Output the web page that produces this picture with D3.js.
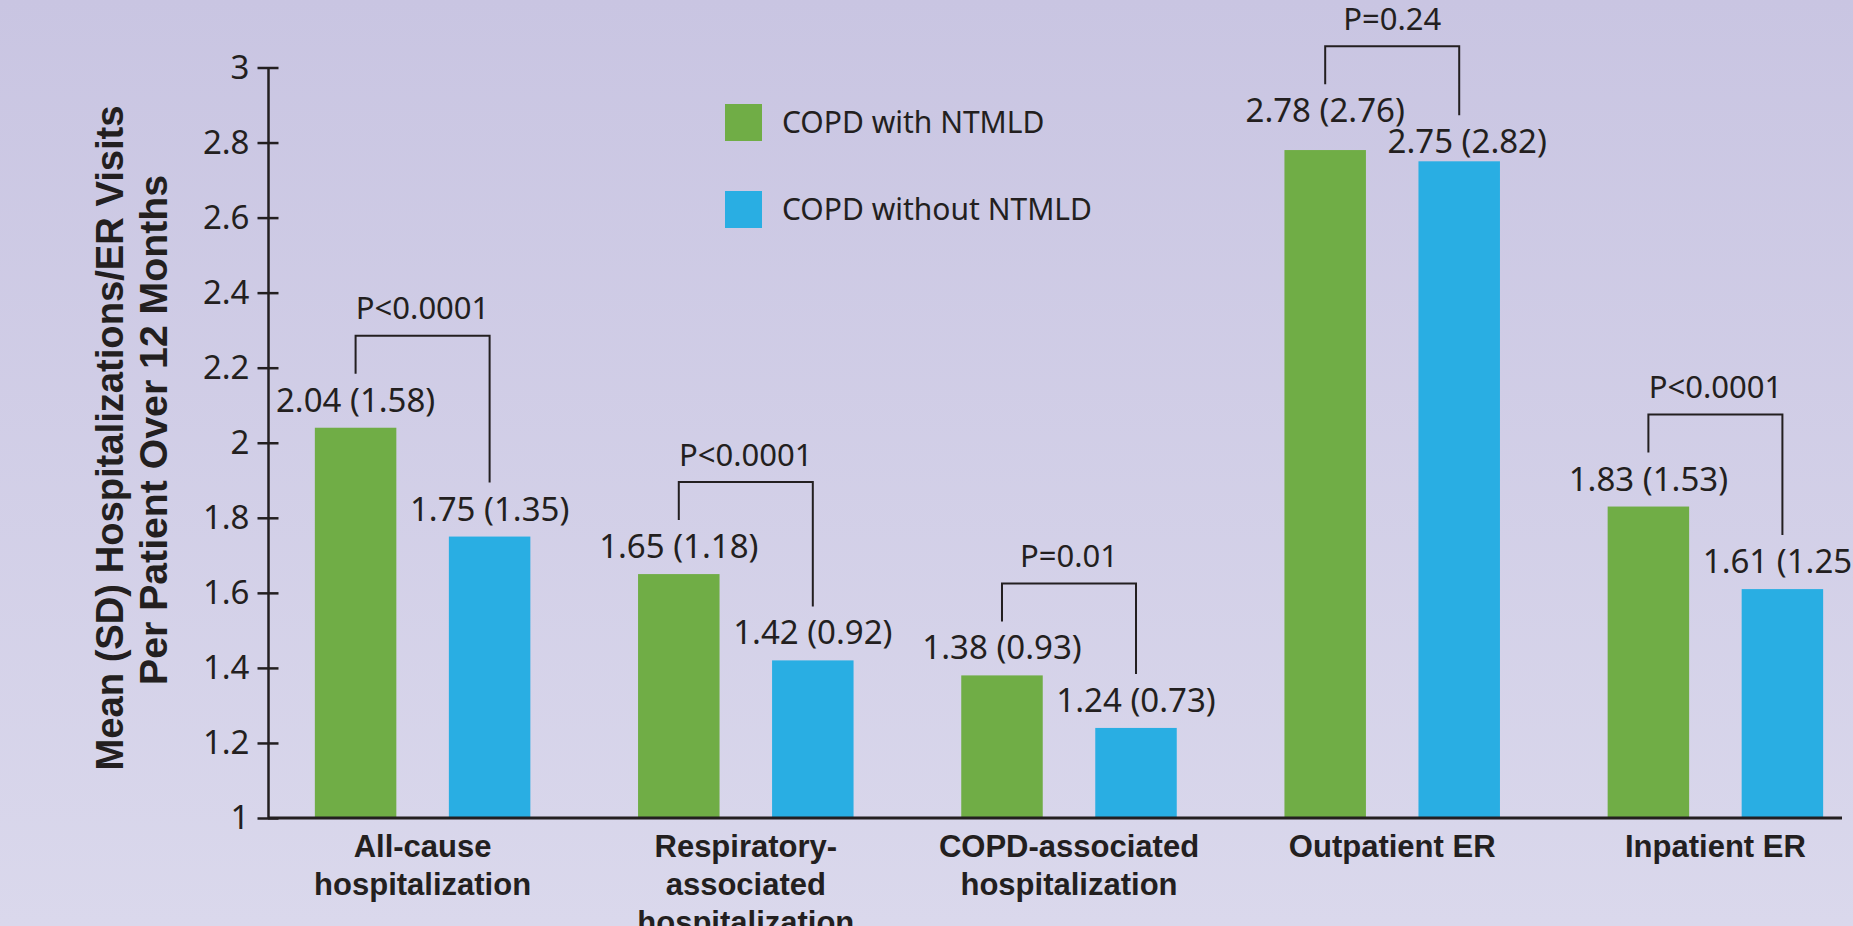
<!DOCTYPE html>
<html>
<head>
<meta charset="utf-8">
<script src="https://cdn.jsdelivr.net/npm/d3@7"></script>
<style>
  html, body { margin: 0; padding: 0; overflow: hidden; }
  svg { display: block; }
  .val { font-family: "Noto Sans", sans-serif; font-size: 33px; fill: #231f20; }
  .pval { font-family: "Noto Sans", sans-serif; font-size: 31px; fill: #231f20; }
  .leg { font-family: "Noto Sans", sans-serif; font-size: 30px; fill: #231f20; }
  .cat { font-family: "Liberation Sans", Arial, sans-serif; font-weight: bold; font-size: 31px; fill: #231f20; }
  .ytitle { font-family: "Liberation Sans", Arial, sans-serif; font-weight: bold; font-size: 39px; fill: #231f20; }
</style>
</head>
<body>
<svg width="1853" height="926"></svg>
<script>
// **** data ****
const categories = ['All-cause hospitalization', 'Respiratory-associated hospitalization',
  'COPD-associated hospitalization', 'Outpatient ER', 'Inpatient ER'];
const categoryLines = [['All-cause', 'hospitalization'], ['Respiratory-', 'associated', 'hospitalization'],
  ['COPD-associated', 'hospitalization'], ['Outpatient ER'], ['Inpatient ER']];
const seriesNames = ['COPD with NTMLD', 'COPD without NTMLD'];
const withNTMLD = [2.04, 1.65, 1.38, 2.78, 1.83];
const withNTMLDsd = [1.58, 1.18, 0.93, 2.76, 1.53];
const withoutNTMLD = [1.75, 1.42, 1.24, 2.75, 1.61];
const withoutNTMLDsd = [1.35, 0.92, 0.73, 2.82, 1.25];
const pValues = ['P<0.0001', 'P<0.0001', 'P=0.01', 'P=0.24', 'P<0.0001'];
const yTicks = [1, 1.2, 1.4, 1.6, 1.8, 2, 2.2, 2.4, 2.6, 2.8, 3];

const colors = ['#70ad46', '#29aee3'];
const ink = '#231f20';

var svg = d3.select('svg');

// background
const defs = svg.append('defs');
const grad = defs.append('linearGradient').attr('id', 'bg')
  .attr('x1', 0).attr('y1', 0).attr('x2', 0).attr('y2', 1);
grad.append('stop').attr('offset', '0%').attr('stop-color', '#c9c5e2');
grad.append('stop').attr('offset', '100%').attr('stop-color', '#dad8ec');
svg.append('rect').attr('width', 1853).attr('height', 926).attr('fill', 'url(#bg)');

// **** scales ****
var yScale = d3.scaleLinear().domain([1, 3]).range([818, 67.5]);
var x0 = d3.scaleBand().domain(categories).range([261, 1877]);
var x1 = d3.scaleBand().domain(seriesNames).range([-107.75, 107.75]).paddingInner(0.392);

function center(cat) { return x0(cat) + x0.bandwidth() / 2; }

// **** bars ****
const rows = categories.map((c, i) => ({
  cat: c,
  vals: [
    {s: seriesNames[0], v: withNTMLD[i], sd: withNTMLDsd[i]},
    {s: seriesNames[1], v: withoutNTMLD[i], sd: withoutNTMLDsd[i]}
  ],
  p: pValues[i]
}));

const groups = svg.selectAll('g.group')
  .data(rows)
  .enter()
  .append('g')
  .attr('class', 'group')
  .attr('transform', d => `translate(${center(d.cat)},0)`);

groups.selectAll('rect')
  .data(d => d.vals)
  .enter()
  .append('rect')
  .attr('x', d => x1(d.s))
  .attr('width', x1.bandwidth())
  .attr('y', d => yScale(d.v))
  .attr('height', d => yScale(1) - yScale(d.v))
  .attr('fill', (d, i) => colors[i]);

// labels + brackets
groups.each(function(d) {
  const g = d3.select(this);
  const yG = yScale(d.vals[0].v), yB = yScale(d.vals[1].v);
  let gBase = yG - 16, bBase = yB - 16;
  let pushed = false;
  if (bBase - gBase < 32) {   // labels would run into each other
    bBase = yB - 8;
    gBase = bBase - 31;
    pushed = true;
  }
  const bases = [gBase, bBase];
  const cx = d.vals.map(v => x1(v.s) + x1.bandwidth() / 2);

  g.selectAll('text.val')
    .data(d.vals)
    .enter()
    .append('text')
    .attr('class', 'val')
    .attr('x', (v, i) => cx[i] + (i === 1 && pushed ? 8 : 0))
    .attr('y', (v, i) => bases[i])
    .attr('text-anchor', 'middle')
    .text(v => `${v.v.toFixed(2)} (${v.sd.toFixed(2)})`);

  const top = gBase - 76;
  g.append('path')
    .attr('d', `M${cx[0]},${gBase - 38}V${top}H${cx[1]}V${bBase - 38}`)
    .attr('fill', 'none')
    .attr('stroke', ink)
    .attr('stroke-width', 2);

  g.append('text')
    .attr('class', 'pval')
    .attr('x', (cx[0] + cx[1]) / 2)
    .attr('y', top - 16.5)
    .attr('text-anchor', 'middle')
    .text(d.p);
});

// **** axes ****
const yAxis = svg.append('g')
  .attr('transform', 'translate(268,0)')
  .call(d3.axisLeft(yScale).tickValues(yTicks).tickSize(10.5).tickSizeOuter(0).tickPadding(8)
    .tickFormat(d => String(+d.toFixed(1))));
yAxis.attr('font-size', null).attr('font-family', null);
yAxis.select('.domain').attr('stroke', ink).attr('stroke-width', 2.5);
yAxis.selectAll('.tick line').attr('x2', 10.5).attr('x1', -10.5).attr('stroke', ink).attr('stroke-width', 2.5);
yAxis.selectAll('.tick text').attr('class', 'val').attr('fill', null);

const xAxis = svg.append('g')
  .attr('transform', 'translate(0,818)')
  .call(d3.axisBottom(x0).tickSize(0).tickFormat(''));
xAxis.select('.domain').remove();
xAxis.append('line')
  .attr('x1', 268).attr('x2', 1842)
  .attr('stroke', ink).attr('stroke-width', 3);
xAxis.selectAll('.tick text').remove();
xAxis.selectAll('.tick')
  .append('text')
  .attr('class', 'cat')
  .attr('text-anchor', 'middle')
  .attr('y', 39)
  .each(function(d, i) {
    const t = d3.select(this);
    categoryLines[i].forEach((line, k) => {
      t.append('tspan').attr('x', 0).attr('dy', k === 0 ? 0 : 38).text(line);
    });
  });

// y axis title
svg.append('text')
  .attr('class', 'ytitle')
  .attr('text-anchor', 'middle')
  .attr('transform', 'translate(123,438) rotate(-90)')
  .attr('textLength', 665).attr('lengthAdjust', 'spacingAndGlyphs')
  .text('Mean (SD) Hospitalizations/ER Visits');

svg.append('text')
  .attr('class', 'ytitle')
  .attr('text-anchor', 'middle')
  .attr('transform', 'translate(166.5,430) rotate(-90)')
  .attr('textLength', 510).attr('lengthAdjust', 'spacingAndGlyphs')
  .text('Per Patient Over 12 Months');

// **** legend ****
const legend = svg.selectAll('g.legend')
  .data(seriesNames)
  .enter()
  .append('g')
  .attr('class', 'legend')
  .attr('transform', (d, i) => `translate(725,${104 + i * 87})`);

legend.append('rect')
  .attr('width', 37).attr('height', 37)
  .attr('fill', (d, i) => colors[i]);

legend.append('text')
  .attr('class', 'leg')
  .attr('x', 57)
  .attr('y', 29)
  .text(d => d);
</script>
</body>
</html>
